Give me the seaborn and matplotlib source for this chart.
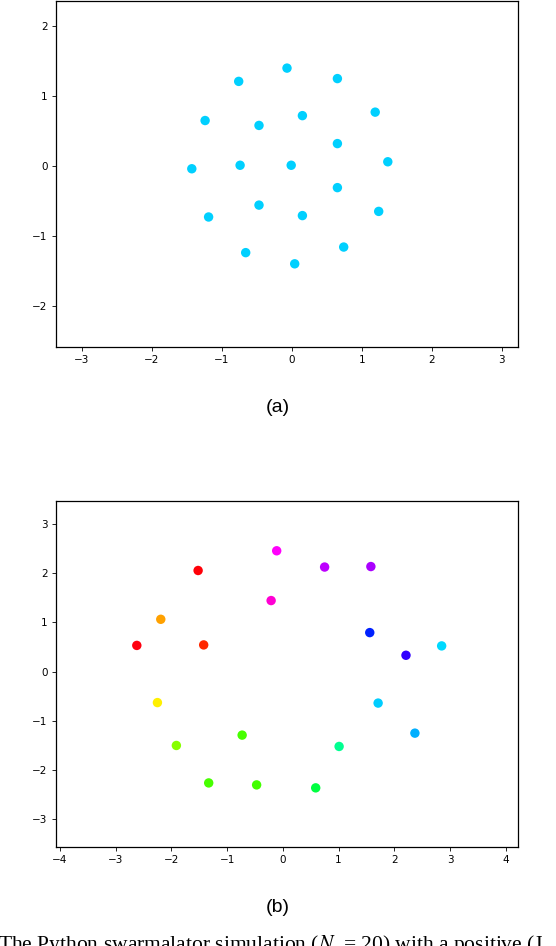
import numpy as np
import pandas as pd
import matplotlib
matplotlib.use("Agg")
import matplotlib.pyplot as plt
import matplotlib.colors as mcolors
import seaborn as sns

# ---- data: panel (a) ----
xa = [-0.07, -0.76, 0.65, -1.24, -0.47, 0.15, 1.19, 0.65, -1.43, -0.74,
      -0.01, 1.37, 0.65, -0.47, 0.15, 1.24, -1.19, -0.66, 0.74, 0.04]
ya = [1.40, 1.21, 1.25, 0.65, 0.58, 0.72, 0.77, 0.32, -0.04, 0.01,
      0.01, 0.06, -0.31, -0.56, -0.71, -0.65, -0.73, -1.24, -1.16, -1.40]
phase_a = [0.531] * 20

# ---- data: panel (b) ----
xb = [-0.11, -1.52, 0.75, 1.58, -0.21, -2.19, -2.62, -1.42, 1.56, 2.21,
      2.85, -2.25, 1.71, 2.37, -1.91, -0.73, 1.01, -1.33, -0.47, 0.59]
yb = [2.45, 2.05, 2.12, 2.13, 1.44, 1.06, 0.53, 0.54, 0.79, 0.33,
      0.52, -0.63, -0.64, -1.25, -1.50, -1.29, -1.52, -2.26, -2.30, -2.36]
phase_b = [0.835, 0.995, 0.79, 0.778, 0.862, 0.105, 0.99, 0.026, 0.645, 0.698,
           0.525, 0.157, 0.533, 0.552, 0.245, 0.287, 0.428, 0.287, 0.29, 0.375]

xticks_a = [-3, -2, -1, 0, 1, 2, 3]
yticks_a = [-2, -1, 0, 1, 2]
xticks_b = [-4, -3, -2, -1, 0, 1, 2, 3, 4]
yticks_b = [-3, -2, -1, 0, 1, 2, 3]

caption_a = "(a)"
caption_b = "(b)"
caption_text = "The Python swarmalator simulation ($N$  = 20) with a positive (J"

plt.rcParams['mathtext.fontset'] = 'stix'

W, H = 556, 946
fig = plt.figure(figsize=(W / 100, H / 100), dpi=100)


def hues_to_colors(ph):
    return [mcolors.to_hex(mcolors.hsv_to_rgb((p % 1.0, 1.0, 1.0))) for p in ph]


def panel(rect, xs, ys, ph, xt, yt, xlim, ylim):
    ax = fig.add_axes(rect)
    df = pd.DataFrame({"x": xs, "y": ys, "c": [str(i) for i in range(len(xs))]})
    cols = hues_to_colors(ph)
    sns.scatterplot(data=df, x="x", y="y", hue="c", palette=cols, s=46,
                    linewidth=0, legend=False, ax=ax)
    ax.set_xlim(*xlim)
    ax.set_ylim(*ylim)
    ax.set_xticks(xt)
    ax.set_yticks(yt)
    ax.set_xlabel("")
    ax.set_ylabel("")
    ax.tick_params(labelsize=7.5, length=3, width=0.6, pad=3)
    for s in ax.spines.values():
        s.set_linewidth(0.9)
    return ax


def r(l, t, rgt, b):
    return [l / W, 1 - b / H, (rgt - l) / W, (b - t) / H]


panel(r(56, 1, 518, 347), xa, ya, phase_a, xticks_a, yticks_a, (-3.37, 3.23), (-2.59, 2.36))
panel(r(56, 501, 518, 847), xb, yb, phase_b, xticks_b, yticks_b, (-4.07, 4.22), (-3.56, 3.46))

fig.text(0.5, 1 - 407 / H, caption_a, ha="center", va="center",
         fontsize=14, family="Liberation Sans")
fig.text(0.5, 1 - 907 / H, caption_b, ha="center", va="center",
         fontsize=14, family="Liberation Sans")
fig.text(-0.003, 1 - 949.5 / H, caption_text, ha="left", va="baseline",
         fontsize=15.5, family="Liberation Serif")

fig.savefig("out.png", dpi=100)
